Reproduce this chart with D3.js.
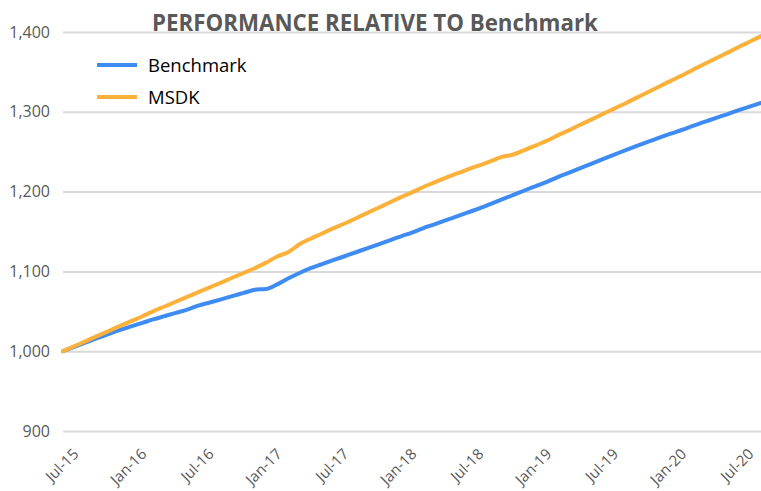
<!DOCTYPE html>
<html>
<head>
<meta charset="utf-8">
<script src="https://cdn.jsdelivr.net/npm/d3@7"></script>
<style>
  html, body { margin: 0; padding: 0; background: #fff; }
  svg { display: block; }
</style>
</head>
<body>
<svg id="chart" width="761" height="491"></svg>
<script>
// ---------- data ----------
const startMonth = new Date(2015, 6, 1);   // Jul-15
const endMonth = new Date(2020, 9, 1);     // exclusive (last point Sep-20)
const months = d3.timeMonth.range(startMonth, endMonth);

const benchmark = [
  1000, 1005.5, 1011, 1016.3, 1021.4, 1026.3, 1031, 1035.5, 1039.8, 1044, 1048, 1052,
  1057, 1061, 1065, 1069, 1073, 1077, 1078, 1084, 1091, 1098, 1104, 1109,
  1114, 1119, 1124, 1129, 1134, 1139, 1144, 1149, 1154, 1159, 1164, 1169,
  1174, 1179, 1184.6, 1190.2, 1195.8, 1201.4, 1207, 1212.6, 1218.2, 1223.8, 1229.4, 1235,
  1240.6, 1246.3, 1252, 1257.3, 1262.5, 1267.6, 1272.6, 1277.5, 1282.4, 1287.3, 1292.1, 1296.9,
  1301.7, 1306.4, 1311
];
const msdk = [
  1000, 1006.3, 1012.6, 1018.9, 1025.2, 1031.4, 1037.6, 1043.8, 1050, 1056, 1062, 1068,
  1074, 1080, 1086, 1092, 1098, 1104, 1111, 1119, 1124, 1134, 1141, 1147.5,
  1154, 1160, 1166.6, 1173.2, 1179.8, 1186.4, 1193, 1199.3, 1205.5, 1211.5, 1217.3, 1222.8,
  1228, 1233, 1238.3, 1243.5, 1246.5, 1252, 1258, 1264, 1270.5, 1277, 1283.8, 1290.5,
  1297.2, 1304, 1310.8, 1317.8, 1324.8, 1331.8, 1338.8, 1345.8, 1352.8, 1359.8, 1366.8, 1373.8,
  1380.8, 1387.8, 1394.8
];
const seriesNames = ["Benchmark", "MSDK"];
const seriesColors = ["#3E8BF3", "#FBB13A"];
const xTickLabels = ["Jul-15","Jan-16","Jul-16","Jan-17","Jul-17","Jan-18","Jul-18","Jan-19","Jul-19","Jan-20","Jul-20"];
const xTickDates = [
  new Date(2015,6,1), new Date(2016,0,1), new Date(2016,6,1), new Date(2017,0,1),
  new Date(2017,6,1), new Date(2018,0,1), new Date(2018,6,1), new Date(2019,0,1),
  new Date(2019,6,1), new Date(2020,0,1), new Date(2020,6,1)
];
const yTicks = [900, 1000, 1100, 1200, 1300, 1400];
const titleText = "PERFORMANCE RELATIVE TO Benchmark";

// ---------- layout ----------
const svg = d3.select("#chart");
const plotLeft = 63, plotRight = 761, plotTop = 32, plotBottom = 431;
const x = d3.scaleTime().domain([months[0], months[months.length - 1]]).range([plotLeft, plotRight]);
const y = d3.scaleLinear().domain([900, 1400]).range([plotBottom, plotTop]);
const textColor = "#595959";
const font = "'Open Sans', 'Noto Sans', sans-serif";

// gridlines + y labels
const yAxis = d3.axisLeft(y).tickValues(yTicks).tickSize(-(plotRight - plotLeft)).tickPadding(13)
  .tickFormat(d3.format(","));
const gy = svg.append("g").attr("transform", `translate(${plotLeft},0)`).call(yAxis);
gy.select(".domain").remove();
gy.selectAll(".tick line").attr("stroke", "#d9d9d9").attr("stroke-width", 2);
gy.selectAll(".tick text").attr("fill", textColor).style("font-family", font)
  .style("font-size", "16px").attr("dy", "0.32em");

// x labels
const xAxis = d3.axisBottom(x).tickValues(xTickDates).tickSize(0)
  .tickFormat((d, i) => xTickLabels[i]);
const gx = svg.append("g").attr("transform", `translate(0,${plotBottom})`).call(xAxis);
gx.select(".domain").remove();
gx.selectAll(".tick text")
  .attr("fill", textColor).style("font-family", font).style("font-size", "15px")
  .attr("text-anchor", "end")
  .attr("dy", null).attr("y", null)
  .attr("transform", "translate(16,24) rotate(-45)");

// lines
const seriesData = [benchmark, msdk];
const line = d3.line().curve(d3.curveMonotoneX).x((d, i) => x(months[i])).y(d => y(d));
seriesData.forEach((vals, k) => {
  svg.append("path").datum(vals)
    .attr("fill", "none")
    .attr("stroke", seriesColors[k])
    .attr("stroke-width", 4)
    .attr("stroke-linejoin", "round")
    .attr("stroke-linecap", "round")
    .attr("d", line);
});

// title
const title = svg.append("text")
  .attr("x", 375).attr("y", 31)
  .attr("text-anchor", "middle")
  .attr("fill", textColor)
  .style("font-family", font).style("font-weight", "bold").style("font-size", "20px")
  .text(titleText);
const tw = title.node().getComputedTextLength();
title.style("font-size", (20 * 446 / tw) + "px");

// legend
const legend = svg.append("g");
seriesNames.forEach((name, k) => {
  const ly = 65 + k * 32;
  legend.append("line").attr("x1", 97).attr("x2", 137).attr("y1", ly).attr("y2", ly)
    .attr("stroke", seriesColors[k]).attr("stroke-width", 4);
  legend.append("text").attr("x", 148).attr("y", ly).attr("dy", "0.38em")
    .attr("fill", "#000").style("font-family", font).style("font-size", "18.5px")
    .text(name);
});
</script>
</body>
</html>
